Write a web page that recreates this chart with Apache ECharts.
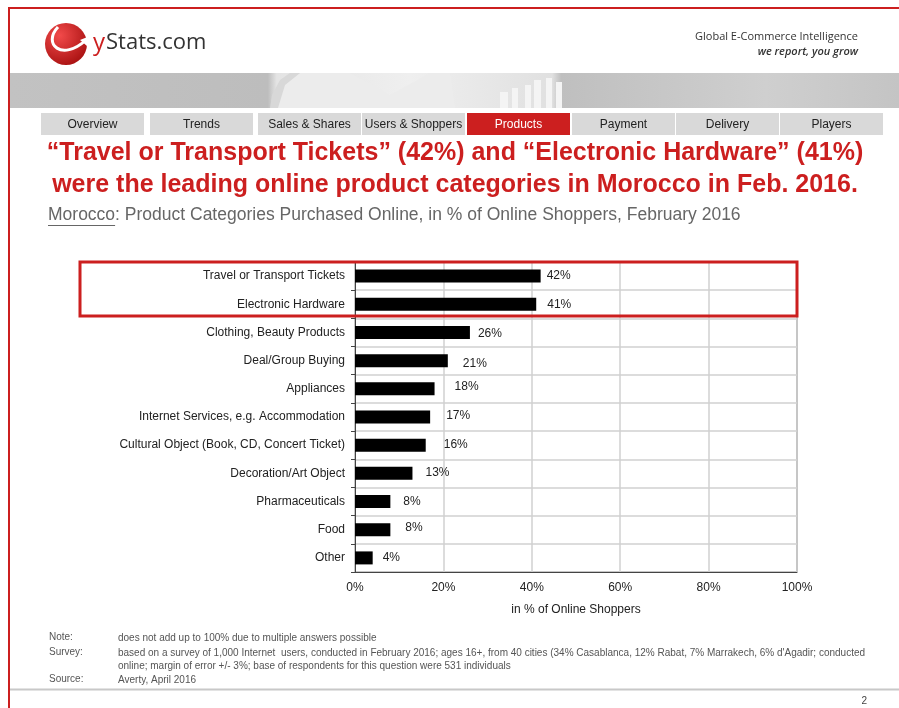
<!DOCTYPE html>
<html><head><meta charset="utf-8">
<script src="https://cdn.jsdelivr.net/npm/echarts@6/dist/echarts.min.js"></script>
<style>html,body{margin:0;padding:0;background:#fff}#c{width:899px;height:708px}</style>
</head><body><div id="c"></div>
<script>
const categories = ["Travel or Transport Tickets","Electronic Hardware","Clothing, Beauty Products","Deal/Group Buying","Appliances","Internet Services, e.g. Accommodation","Cultural Object (Book, CD, Concert Ticket)","Decoration/Art Object","Pharmaceuticals","Food","Other"];
const shares = [42,41,26,21,18,17,16,13,8,8,4];
const xTicks = [0,20,40,60,80,100];
const tabs = ["Overview","Trends","Sales & Shares","Users & Shoppers","Products","Payment","Delivery","Players"];
const activeTab = "Products";
const titleLines = ["\u201cTravel or Transport Tickets\u201d (42%) and \u201cElectronic Hardware\u201d (41%)","were the leading online product categories in Morocco in Feb. 2016."];
const subtitleCountry = "Morocco";
const subtitleRest = ": Product Categories Purchased Online, in % of Online Shoppers, February 2016";
const notes = [["Note:","does not add up to 100% due to multiple answers possible"],["Survey:","based on a survey of 1,000 Internet  users, conducted in February 2016; ages 16+, from 40 cities (34% Casablanca, 12% Rabat, 7% Marrakech, 6% d'Agadir; conducted\nonline; margin of error +/- 3%; base of respondents for this question were 531 individuals"],["Source:","Averty, April 2016"]];

// label nudges (style only), matching the reference's slightly irregular label placement
const labelNudge = [[0,0],[5,0],[2,1],[9,3],[14,-2],[10,-1],[12,0],[7,-1],[7,0],[9,-2],[4,0]];

const RED = '#cc1f1f';
const FONT = 'Liberation Sans, Arial, sans-serif';
const chart = echarts.init(document.getElementById('c'));

const ctx = document.createElement('canvas').getContext('2d');
function tw(t, f){ ctx.font = f; return ctx.measureText(t).width; }

const tabX = [41,150,258,362,467,572,676,780];
const tabW = 103;
const graphics = [];
graphics.push({type:'rect',shape:{x:9,y:8,width:895,height:710},style:{fill:'none',stroke:RED,lineWidth:2},silent:true,z:50});
// banner
graphics.push({type:'rect',shape:{x:10,y:73,width:889,height:35},style:{fill:new echarts.graphic.LinearGradient(0,0,1,0,[{offset:0,color:'#c2c2c2'},{offset:0.29,color:'#bdbdbd'},{offset:0.30,color:'#e4e4e4'},{offset:0.45,color:'#efefef'},{offset:0.55,color:'#e6e6e6'},{offset:0.61,color:'#e0e0e0'},{offset:0.62,color:'#bfbfbf'},{offset:0.85,color:'#cfcfcf'},{offset:1,color:'#c4c4c4'}])}});
graphics.push({type:'polygon',shape:{points:[[275,108],[280,86],[300,73],[350,73],[390,95],[430,73],[450,73],[455,108]]},style:{fill:'#ececec'}});
graphics.push({type:'polygon',shape:{points:[[270,108],[272,95],[280,80],[290,73],[300,73],[285,85],[278,108]]},style:{fill:'#d8d8d8'}});
// buildings
[[525,85,6,23],[534,80,7,28],[546,78,6,30],[556,82,6,26],[500,92,8,16],[512,88,6,20]].forEach(b=>{
  graphics.push({type:'rect',shape:{x:b[0],y:b[1],width:b[2],height:b[3]},style:{fill:'#f4f4f4'}});
});
// logo
graphics.push({type:'circle',shape:{cx:66,cy:44,r:21},style:{fill:new echarts.graphic.RadialGradient(0.35,0.3,0.8,[{offset:0,color:'#f24a4a'},{offset:1,color:'#a50e0e'}])}});
graphics.push({type:'bezierCurve',shape:{x1:58,y1:27,cpx1:42,cpy1:44,cpx2:62,cpy2:62,x2:86,y2:40},style:{stroke:'#fff',lineWidth:3,fill:'none'}});
graphics.push({type:'polygon',shape:{points:[[80,40],[90,36],[87,46]]},style:{fill:'#fff'}});
graphics.push({type:'text',style:{x:93,y:43,text:'y',font:'24px Open Sans, '+FONT,fill:RED,verticalAlign:'middle'}});
graphics.push({type:'text',style:{x:106,y:43,text:'Stats.com',font:'22px Open Sans, '+FONT,fill:'#333',verticalAlign:'middle'}});
graphics.push({type:'text',style:{x:858,y:37,text:'Global E-Commerce Intelligence',font:'11px Open Sans, '+FONT,fill:'#333',align:'right',verticalAlign:'middle'}});
graphics.push({type:'text',style:{x:858,y:52,text:'we report, you grow',font:'italic 600 11px Open Sans, '+FONT,fill:'#333',align:'right',verticalAlign:'middle'}});
// tabs
tabs.forEach((t,i)=>{
  const act = t===activeTab;
  graphics.push({type:'rect',shape:{x:tabX[i],y:113,width:tabW,height:22},style:{fill:act?RED:'#d9d9d9'}});
  graphics.push({type:'text',style:{x:tabX[i]+tabW/2,y:124.5,text:t,font:'12px '+FONT,fill:act?'#fff':'#222',align:'center',verticalAlign:'middle'}});
});
// title
titleLines.forEach((l,i)=>{
  graphics.push({type:'text',style:{x:455,y:153+i*32,text:l,font:'bold 25px '+FONT,fill:RED,align:'center',verticalAlign:'middle'}});
});
// subtitle
const subFont = '17.5px '+FONT;
const cw = tw(subtitleCountry, subFont);
graphics.push({type:'text',style:{x:48,y:215,text:subtitleCountry,font:subFont,fill:'#666',verticalAlign:'middle'}});
graphics.push({type:'text',style:{x:48+cw,y:215,text:subtitleRest,font:subFont,fill:'#666',verticalAlign:'middle'}});
graphics.push({type:'line',shape:{x1:48,y1:225.5,x2:48+cw,y2:225.5},style:{stroke:'#666',lineWidth:1}});
// highlight box
graphics.push({type:'rect',shape:{x:80,y:262,width:717,height:54},style:{fill:'none',stroke:RED,lineWidth:3},z:100});
// notes
const noteY = [637,652,679];
notes.forEach((n,i)=>{
  graphics.push({type:'text',style:{x:49,y:noteY[i],text:n[0],font:'10px '+FONT,fill:'#555',verticalAlign:'middle'}});
  graphics.push({type:'text',style:{x:118,y:noteY[i]-6,text:n[1],font:'10px '+FONT,fill:'#555',verticalAlign:'top',lineHeight:13.5}});
});
graphics.push({type:'line',shape:{x1:10,y1:689.5,x2:899,y2:689.5},style:{stroke:'#c8c8c8',lineWidth:2}});
graphics.push({type:'text',style:{x:867,y:701,text:'2',font:'10px '+FONT,fill:'#444',align:'right',verticalAlign:'middle'}});

chart.setOption({
  animation:false,
  grid:{left:355,right:102,top:262,bottom:136,show:true,borderColor:'#555',borderWidth:1},
  xAxis:{type:'value',min:xTicks[0],max:xTicks[xTicks.length-1],interval:20,
    axisLabel:{formatter:'{value}%',color:'#222',fontSize:12,fontFamily:FONT,margin:10},
    axisLine:{show:true,lineStyle:{color:'#444'}},axisTick:{show:false},
    splitLine:{show:true,lineStyle:{color:'#d0d0d0',width:1.5}},
    name:'in % of Online Shoppers',nameLocation:'middle',nameGap:32,nameTextStyle:{color:'#222',fontSize:12,fontFamily:FONT}},
  yAxis:{type:'category',data:categories,inverse:true,
    axisLabel:{color:'#222',fontSize:12,fontFamily:FONT,margin:10},
    axisLine:{show:true,lineStyle:{color:'#444'}},
    axisTick:{show:true,length:4,lineStyle:{color:'#444'}},
    splitLine:{show:true,lineStyle:{color:'#d0d0d0',width:1.5}}},
  series:[{type:'bar',barWidth:13,itemStyle:{color:'#000'},
    data:shares.map((v,i)=>({value:v,label:{offset:labelNudge[i]}})),
    label:{show:true,position:'right',distance:6,formatter:'{c}%',color:'#222',fontSize:12,fontFamily:FONT}}],
  graphic:graphics
});
</script></body></html>
